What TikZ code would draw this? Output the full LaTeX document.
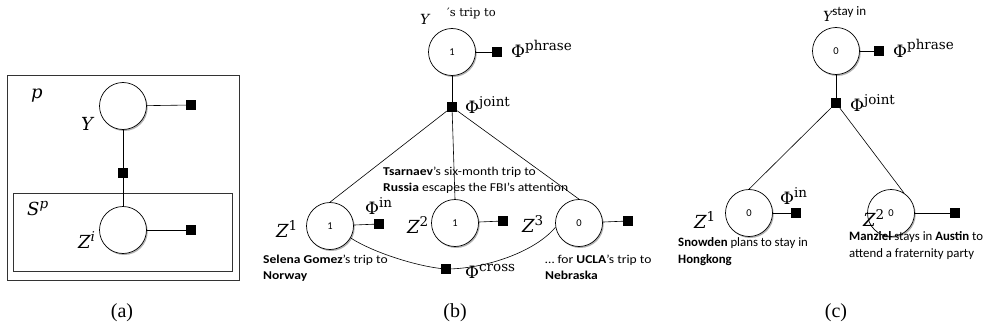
\documentclass[tikz,border=0pt]{standalone}
\usepackage{fontspec}
\setmainfont{Liberation Serif}
\newfontfamily\carl{Carlito}
\newfontfamily\carlb[FakeStretch=1.13]{Carlito}
\newfontfamily\djs{DejaVu Serif}
\usetikzlibrary{shadows}
\newcommand{\bigsym}[1]{{\djs\fontsize{17}{17}\selectfont #1}}
\newcommand{\supsym}[1]{\raisebox{7pt}{\djs\fontsize{13.5}{13.5}\selectfont #1}}
\newcommand{\itsym}[1]{{\djs\itshape\fontsize{18}{18}\selectfont #1}}
\begin{document}
\begin{tikzpicture}[x=1pt,y=-1pt,
  var/.style={circle,draw,line width=0.7pt,fill=white,minimum size=47pt,inner sep=0pt,
    font=\carl\fontsize{10.5}{11}\selectfont,
    drop shadow={shadow xshift=1.2pt,shadow yshift=-1.5pt,opacity=0.3,fill=black}},
  fac/.style={rectangle,fill=black,minimum size=10pt,inner sep=0pt},
  edge/.style={line width=0.6pt},
  lab/.style={inner sep=0pt,anchor=base west},
  descb/.style={inner sep=0pt,anchor=base west,align=left,font=\carlb\fontsize{12}{15.5}\selectfont},
  descc/.style={inner sep=0pt,anchor=base west,align=left,font=\carl\fontsize{12.8}{16.5}\selectfont},
  plate/.style={draw=black!80,line width=1pt},
  sublabel/.style={inner sep=0pt,anchor=base,font=\fontsize{20}{20}\selectfont}]
\useasboundingbox (0,0) rectangle (987,329);

% ---------------- (a)
\draw[plate] (7,75) rectangle (239,280);
\draw[plate] (13,193) rectangle (232,271);
\node[var] (ya) at (123,106) {};
\node[fac] (fya) at (191,105) {};
\node[fac] (fja) at (123,173) {};
\node[var] (za) at (123,230) {};
\node[fac] (fza) at (191,230) {};
\draw[edge] (ya) -- (fya);
\draw[edge] (ya) -- (fja);
\draw[edge] (fja) -- (za);
\draw[edge] (za) -- (fza);
\node[lab] (pa) at (31,98) {\itsym{p}};
\node[lab] (yla) at (81,130) {\itsym{Y}};
\node[lab] (sa) at (27,215) {\itsym{S}\supsym{\itshape p}};
\node[lab] (zla) at (78,248) {\itsym{Z}\supsym{\itshape i}};
\node[sublabel] (capa) at (122,317) {(a)};

% ---------------- (b)
\node[var] (yb) at (452,52) {1};
\node[fac] (fpb) at (497,52) {};
\node[fac] (fjb) at (452,107) {};
\node[var] (z1b) at (330,226) {1};
\node[fac] (f1b) at (379,224) {};
\node[var] (z2b) at (455,223) {1};
\node[fac] (f2b) at (503,221) {};
\node[var] (z3b) at (579,223) {0};
\node[fac] (f3b) at (628,221) {};
\node[fac] (fcb) at (446,269) {};
\draw[edge] (yb) -- (fpb);
\draw[edge] (yb) -- (fjb);
\draw[edge] (fjb) -- (z1b.north);
\draw[edge] (fjb) -- (z2b.north);
\draw[edge] (fjb) -- (z3b.north);
\draw[edge] (z1b) -- (f1b);
\draw[edge] (z2b) -- (f2b);
\draw[edge] (z3b) -- (f3b);
\draw[edge] (z1b.-30) .. controls (372,252) and (418,267) .. (fcb.center);
\draw[edge] (fcb.center) .. controls (485,269) and (535,252) .. (z3b.190);
\node[lab] (ylb) at (420,25) {{\djs\itshape\fontsize{14}{14}\selectfont Y}};
\node[lab] (tripb) at (447,17) {{\djs\fontsize{11.5}{12}\selectfont ′s trip to}};
\node[lab] (phb) at (511,58) {\bigsym{Φ}\supsym{phrase}};
\node[lab] (pjb) at (465,113) {\bigsym{Φ}\supsym{joint}};
\node[lab] (pib) at (365,214) {\bigsym{Φ}\supsym{in}};
\node[lab] (pcb) at (465,278) {\bigsym{Φ}\supsym{cross}};
\node[lab] (z1lb) at (276,237) {\itsym{Z}\supsym{1}};
\node[lab] (z2lb) at (407,233) {\itsym{Z}\supsym{2}};
\node[lab] (z3lb) at (522,232) {\itsym{Z}\supsym{3}};
\node[descb] (tsb) at (383,191) {\textbf{Tsarnaev}’s six-month trip to\\\textbf{Russia} escapes the FBI’s attention};
\node[descb] (seb) at (263,279) {\textbf{Selena Gomez}’s trip to\\\textbf{Norway}};
\node[descb] (ucb) at (545,279) {… for \textbf{UCLA}’s trip to\\\textbf{Nebraska}};
\node[sublabel] (capb) at (455,317) {(b)};

% ---------------- (c)
\node[var] (yc) at (836,51) {0};
\node[fac] (fpc) at (879,51) {};
\node[fac] (fjc) at (836,103) {};
\node[var] (z1c) at (749,213) {0};
\node[fac] (f1c) at (796,213) {};
\node[var] (z2c) at (891,213) {0};
\node[fac] (f2c) at (955,213) {};
\draw[edge] (yc) -- (fpc);
\draw[edge] (yc) -- (fjc);
\draw[edge] (fjc) -- (z1c.north);
\draw[edge] (fjc) -- (z2c.57);
\draw[edge] (z1c) -- (f1c);
\draw[edge] (z2c) -- (f2c);
\node[lab] (ylc) at (823,22) {{\djs\itshape\fontsize{14}{14}\selectfont Y}\raisebox{6pt}{\carl\fontsize{13}{13}\selectfont stay in}};
\node[lab] (phc) at (893,57) {\bigsym{Φ}\supsym{phrase}};
\node[lab] (pjc) at (850,111) {\bigsym{Φ}\supsym{joint}};
\node[lab] (pic) at (780,204) {\bigsym{Φ}\supsym{in}};
\node[lab] (z1lc) at (694,228) {\itsym{Z}\supsym{1}};
\node[lab] (z2lc) at (863,226) {\itsym{Z}\supsym{2}};
\node[descc] (snc) at (678,263) {\textbf{Snowden} plans to stay in\\\textbf{Hongkong}};
\node[descc] (mac) at (849,257) {\textbf{Manziel} stays in \textbf{Austin} to\\attend a fraternity party};
\node[sublabel] (capc) at (836,317) {(c)};
\end{tikzpicture}
\end{document}
